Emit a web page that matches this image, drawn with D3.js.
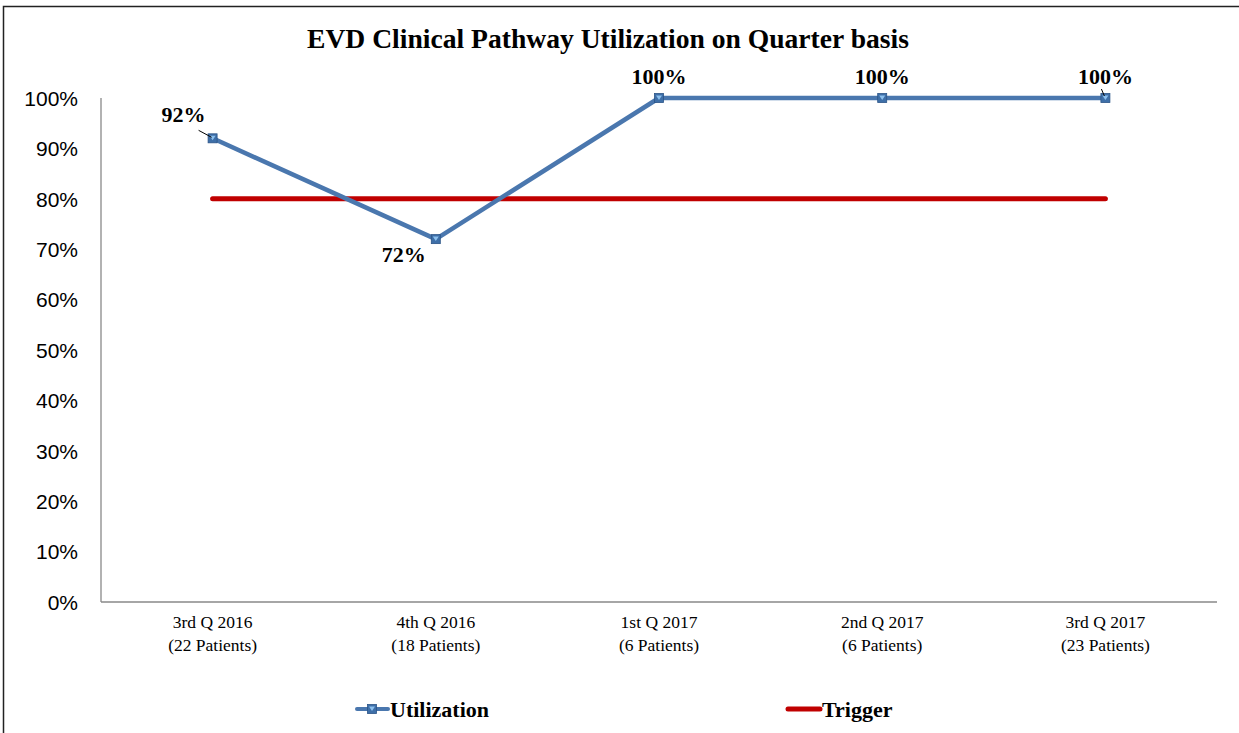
<!DOCTYPE html>
<html><head><meta charset="utf-8">
<script src="https://cdn.jsdelivr.net/npm/d3@7"></script>
<style>body{margin:0;background:#fff;}svg{display:block;}</style>
</head><body>
<script>
const categories = ["3rd Q 2016|(22 Patients)","4th Q 2016|(18 Patients)","1st Q 2017|(6 Patients)","2nd Q 2017|(6 Patients)","3rd Q 2017|(23 Patients)"];
const utilization = [0.92, 0.72, 1.00, 1.00, 1.00];
const trigger = [0.80, 0.80, 0.80, 0.80, 0.80];
const utilLabels = ["92%","72%","100%","100%","100%"];
const yTicks = [0,0.1,0.2,0.3,0.4,0.5,0.6,0.7,0.8,0.9,1.0];

const W = 1239, H = 733;
const serif = "'Liberation Serif', 'Times New Roman', serif";
const sans = "'Liberation Sans', Arial, sans-serif";
const svg = d3.select("body").append("svg").attr("width", W).attr("height", H);
svg.append("rect").attr("width", W).attr("height", H).attr("fill", "#fff");
svg.append("path").attr("d", `M3.5,${H} L3.5,6.5 L${W},6.5`).attr("fill","none").attr("stroke","#222").attr("stroke-width",1.5);

const x = d3.scaleBand().domain(categories).range([101, 1217]);
const y = d3.scaleLinear().domain([0, 1]).range([602, 98]);
const cx = d => x(d) + x.bandwidth()/2;

svg.append("text").attr("x", 608).attr("y", 48).attr("text-anchor","middle")
  .style("font-family",serif).attr("font-weight","bold").style("font-size","27.6px")
  .text("EVD Clinical Pathway Utilization on Quarter basis");

svg.append("line").attr("x1",101).attr("x2",101).attr("y1",y(1)).attr("y2",y(0)).attr("stroke","#999").attr("stroke-width",1.5);
svg.append("line").attr("x1",101).attr("x2",1217).attr("y1",y(0)).attr("y2",y(0)).attr("stroke","#888").attr("stroke-width",1.5);

const yAxis = d3.axisLeft(y).tickValues(yTicks).tickFormat(d3.format(".0%")).tickSize(0).tickPadding(23);
const ya = svg.append("g").attr("transform","translate(101,0)").call(yAxis);
ya.select(".domain").remove();
ya.selectAll("text").style("font-family",sans).style("font-size","21px").attr("fill","#000").attr("dy","0.35em");

const xa = svg.append("g").attr("transform",`translate(0,${y(0)})`).call(d3.axisBottom(x).tickSize(0).tickFormat(""));
xa.select(".domain").remove();
xa.selectAll(".tick").each(function(d){
  const t = d3.select(this).append("text").attr("fill","#000").attr("text-anchor","middle")
    .style("font-family",serif).style("font-size","17.5px");
  const parts = d.split("|");
  t.append("tspan").attr("x",0).attr("y",26).text(parts[0]);
  t.append("tspan").attr("x",0).attr("y",49).text(parts[1]);
});

const line = d3.line().x((d,i)=>cx(categories[i])).y(d=>y(d));
svg.append("path").datum(trigger).attr("d", line).attr("fill","none").attr("stroke","#c00000").attr("stroke-width",5).attr("stroke-linecap","round");
svg.append("path").datum(utilization).attr("d", line).attr("fill","none").attr("stroke","#4a77ae").attr("stroke-width",4.5).attr("stroke-linejoin","round");

function marker(g, px, py){
  g.append("rect").attr("x",px-4.5).attr("y",py-4.5).attr("width",9).attr("height",9).attr("fill","#3e6fa8").attr("stroke","#2b5487").attr("stroke-width",0.8);
  g.append("path").attr("d",`M${px-3},${py-2.5} L${px+3},${py-2.5} L${px},${py+2}Z`).attr("fill","#8cc0ee");
}
const mg = svg.append("g");
utilization.forEach((v,i)=>marker(mg, cx(categories[i]), y(v)));

const lbl = svg.append("g").style("font-family",serif).attr("font-weight","bold").style("font-size","22px").attr("fill","#000");
const offsets = [[-29,-24],[-32,15],[0,-22],[0,-22],[0,-22]];
utilization.forEach((v,i)=>{
  lbl.append("text").attr("x",cx(categories[i])+offsets[i][0]).attr("y",y(v)+offsets[i][1]).attr("text-anchor","middle").attr("dy","0.35em").text(utilLabels[i]);
});
svg.append("line").attr("x1",cx(categories[0])-14).attr("y1",y(utilization[0])-8).attr("x2",cx(categories[0])-1).attr("y2",y(utilization[0])-1).attr("stroke","#000").attr("stroke-width",1);
svg.append("line").attr("x1",cx(categories[4])-4).attr("y1",y(utilization[4])-9).attr("x2",cx(categories[4])-1).attr("y2",y(utilization[4])-2).attr("stroke","#000").attr("stroke-width",1);

const lg = svg.append("g").style("font-family",serif).attr("font-weight","bold").style("font-size","22px");
lg.append("line").attr("x1",357).attr("x2",388).attr("y1",709).attr("y2",709).attr("stroke","#4a77ae").attr("stroke-width",4).attr("stroke-linecap","round");
marker(lg, 372, 709);
lg.append("text").attr("x",390).attr("y",709).attr("dy","0.35em").text("Utilization");
lg.append("line").attr("x1",788).attr("x2",820).attr("y1",709).attr("y2",709).attr("stroke","#c00000").attr("stroke-width",5).attr("stroke-linecap","round");
lg.append("text").attr("x",822).attr("y",709).attr("dy","0.35em").text("Trigger");
</script>
</body></html>
